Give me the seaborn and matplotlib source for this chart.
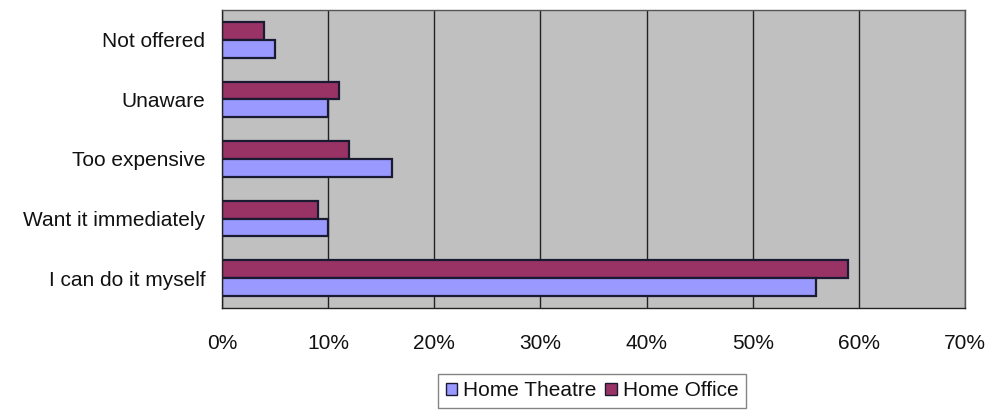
import matplotlib
matplotlib.use("Agg")
import matplotlib.pyplot as plt
import seaborn as sns
import pandas as pd
from matplotlib.patches import Patch
from matplotlib.ticker import FuncFormatter

categories = ["Not offered", "Unaware", "Too expensive", "Want it immediately", "I can do it myself"]
home_office = [4, 11, 12, 9, 59]
home_theatre = [5, 10, 16, 10, 56]
x_ticks = [0, 10, 20, 30, 40, 50, 60, 70]

df = pd.DataFrame({
    "Reason": categories * 2,
    "Value": home_office + home_theatre,
    "Series": ["Home Office"] * len(categories) + ["Home Theatre"] * len(categories),
})

sns.set_style("white")
plt.rcParams["font.family"] = ["Liberation Sans", "DejaVu Sans"]

c_office = "#993366"
c_theatre = "#9999FF"

fig = plt.figure(figsize=(9.92, 4.13), dpi=100)
ax = fig.add_axes([222/992, 1 - 308/413, (965-222)/992, (308-10)/413])

sns.barplot(data=df, y="Reason", x="Value", hue="Series", order=categories,
            hue_order=["Home Office", "Home Theatre"],
            palette={"Home Office": c_office, "Home Theatre": c_theatre},
            orient="h", width=0.6, edgecolor="#1a1a33", linewidth=1.6,
            ax=ax, legend=False, saturation=1)

ax.set_facecolor("#C0C0C0")
ax.set_xlim(0, 70)
ax.set_xticks(x_ticks)
ax.xaxis.set_major_formatter(FuncFormatter(lambda v, p: f"{int(v)}%"))
ax.grid(axis="x", color="#222222", linewidth=1.0)
ax.set_axisbelow(True)
for s in ax.spines.values():
    s.set_color("#555555")
    s.set_linewidth(1.0)
ax.spines["left"].set_color("#222222")
ax.spines["bottom"].set_color("#222222")
ax.tick_params(axis="x", direction="out", length=7, width=1, color="#222222", pad=12,
               labelsize=15, labelcolor="#111111")
ax.tick_params(axis="y", length=0, pad=12, labelsize=15, labelcolor="#111111")
ax.set_xlabel("")
ax.set_ylabel("")

handles = [Patch(facecolor=c_theatre, edgecolor="#1a1a33", label="Home Theatre"),
           Patch(facecolor=c_office, edgecolor="#1a1a33", label="Home Office")]
fig.legend(handles=handles, loc="center", bbox_to_anchor=(592/992, 1 - 391/413), ncol=2,
           frameon=True, fancybox=False, edgecolor="#666666", fontsize=15,
           handlelength=0.55, handleheight=0.55, handletextpad=0.3, columnspacing=0.4,
           borderpad=0.35, labelcolor="#111111")

fig.savefig("out.png", dpi=100, facecolor="white")
